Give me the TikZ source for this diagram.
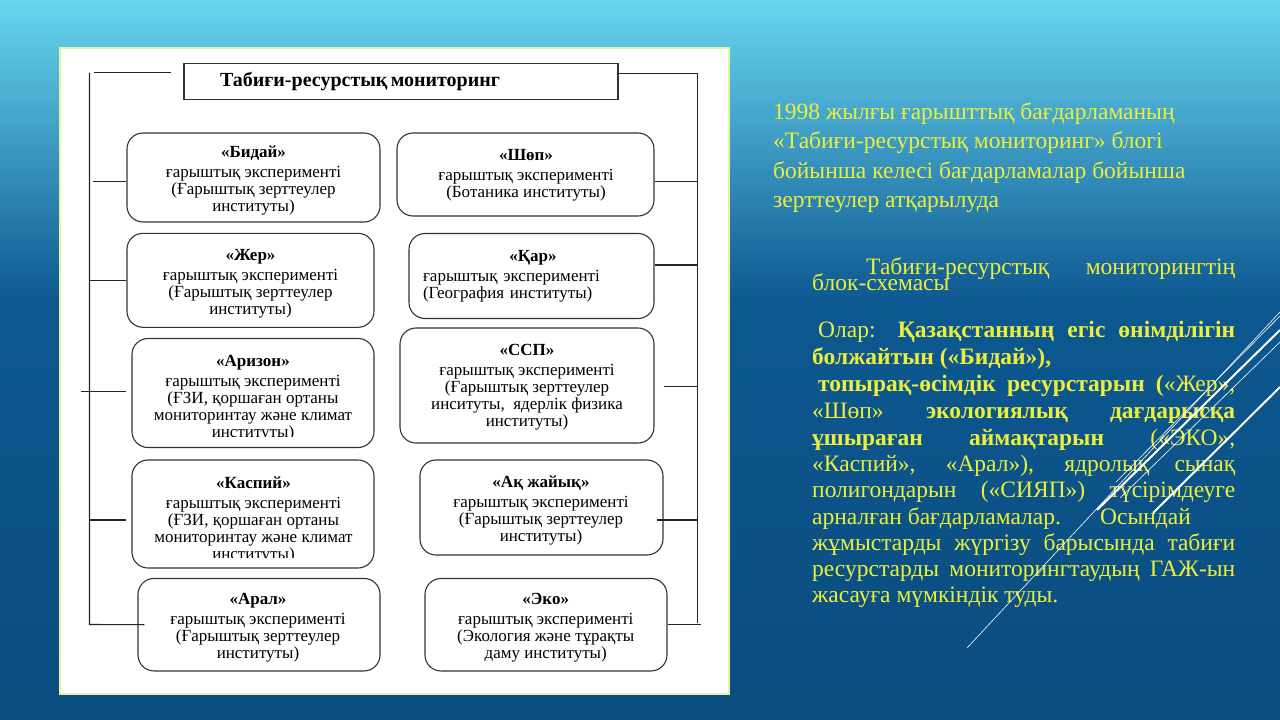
\documentclass[tikz,border=0pt]{standalone}
\usepackage{fontspec}
\setmainfont{Liberation Serif}
\usetikzlibrary{positioning, calc}
\definecolor{slidetop}{RGB}{104,214,240}
\definecolor{slidemid}{RGB}{34,128,186}
\definecolor{slidedark}{RGB}{13,88,145}
\definecolor{slidebottom}{RGB}{10,76,126}
\definecolor{panelrim}{RGB}{228,244,160}
\definecolor{noteyellow}{RGB}{236,240,60}
\newcommand{\boxfont}{\fontsize{17pt}{17pt}\selectfont}
\newcommand{\notefont}{\fontsize{23.5pt}{26pt}\selectfont}

\begin{document}
\begin{tikzpicture}[x=1pt, y=-1pt,
    expbox/.style={draw=black!80, line width=1.1pt, fill=white, rounded corners=16pt, inner sep=0},
    exptext/.style={align=center, font=\boxfont, inner sep=0},
    titlebox/.style={draw=black!80, line width=1.1pt, fill=white, inner sep=0, minimum width=434pt, minimum height=36.5pt, text width=434pt, align=left},
    link/.style={draw=black!85, line width=1.1pt},
    note/.style={text=noteyellow, inner sep=0, anchor=base west, font=\notefont}]
    \useasboundingbox (0,0) rectangle (1280,720);

    % Slide background
    \shade[top color=slidetop, middle color=slidemid, bottom color=slidedark] (0,0) rectangle (1280,300);
    \shade[top color=slidedark, bottom color=slidebottom] (0,300) rectangle (1280,720);

    % White panel
    \draw[fill=white, draw=panelrim, line width=2pt] (60,48) rectangle (729,694);

    % Title
    \node[titlebox] (title) at (401,81.5) {\hspace*{36pt}\fontsize{20pt}{22pt}\selectfont\textbf{Табиғи-ресурстық мониторинг}};

    % Experiment boxes
    \node[expbox, minimum width=253pt, minimum height=89pt] (bidai) at (253.5,177.5) {};
    \node[expbox, minimum width=257pt, minimum height=83pt] (shop) at (525.5,174.5) {};
    \node[expbox, minimum width=247pt, minimum height=94pt] (zher) at (250.5,280.3) {};
    \node[expbox, minimum width=245pt, minimum height=85pt] (qar) at (531.5,276) {};
    \node[expbox, minimum width=242pt, minimum height=109pt] (arizon) at (253,393) {};
    \node[expbox, minimum width=254pt, minimum height=115pt] (ssp) at (527,385.5) {};
    \node[expbox, minimum width=242pt, minimum height=108pt] (kaspiy) at (253,514) {};
    \node[expbox, minimum width=243pt, minimum height=95pt] (aqzh) at (541.5,507.5) {};
    \node[expbox, minimum width=242pt, minimum height=92.5pt] (aral) at (259,624.7) {};
    \node[expbox, minimum width=242pt, minimum height=92.5pt] (eko) at (546,624.7) {};

    % Box texts
    \node[exptext] (bidaiT) at (253.5,180) {\textbf{«Бидай»}\\[3pt] ғарыштық эксперименті\\ (Ғарыштық зерттеулер\\ институты)};
    \node[exptext] (shopT) at (526,175) {\textbf{«Шөп»}\\[3pt] ғарыштық эксперименті\\ (Ботаника институты)};
    \node[exptext] (zherT) at (250.5,283.5) {\textbf{«Жер»}\\[3pt] ғарыштық эксперименті\\ (Ғарыштық зерттеулер\\ институты)};
    \node[exptext, text width=220pt, align=left] (qarT) at (533,276) {\makebox[220pt]{\textbf{«Қар»}}\\[3pt] ғарыштық эксперименті\\ (География институты)};
    \begin{scope}
        \clip (133,340) rectangle (373,436);
        \node[exptext] (arizonT) at (253,398) {\textbf{«Аризон»}\\[3pt] ғарыштық эксперименті\\ (ҒЗИ, қоршаған ортаны\\ мониторинтау және климат\\ институты)};
    \end{scope}
    \node[exptext] (sspT) at (527,387) {\textbf{«ССП»}\\[3pt] ғарыштық эксперименті\\ (Ғарыштық зерттеулер\\ инситуты,\ \ ядерлік физика\\ институты)};
    \begin{scope}
        \clip (133,461) rectangle (373,557);
        \node[exptext] (kaspiyT) at (253.5,519.5) {\textbf{«Каспий»}\\[3pt] ғарыштық эксперименті\\ (ҒЗИ, қоршаған ортаны\\ мониторинтау және климат\\ институты)};
    \end{scope}
    \node[exptext] (aqzhT) at (541,510) {\textbf{«Ақ жайық»}\\[3pt] ғарыштық эксперименті\\ (Ғарыштық зерттеулер\\ институты)};
    \node[exptext] (aralT) at (258,628) {\textbf{«Арал»}\\[3pt] ғарыштық эксперименті\\ (Ғарыштық зерттеулер\\ институты)};
    \node[exptext] (ekoT) at (545.7,628) {\textbf{«Эко»}\\[3pt] ғарыштық эксперименті\\ (Экология және тұрақты\\ даму институты)};

    % Left bus
    \coordinate (lbusT) at (89.5,72.5);
    \coordinate (lbusB) at (89.5,624.5);
    \coordinate (lstubW) at (94,72.5);
    \coordinate (lstubE) at (171,72.5);
    \draw[link] (lstubW) -- (lstubE);
    \draw[link] (lbusT) -- (lbusB) -- ([xshift=7pt]aral.west);
    \draw[link] ([yshift=-4pt]bidai.west) -- ++(-33,0);
    \draw[link] (zher.west) -- ++(-37.5,0);
    \draw[link] ([xshift=-5pt,yshift=1.5pt]arizon.west) -- ++(-45.5,0);
    \draw[link] ([xshift=-5pt,yshift=-6pt]kaspiy.west) -- ++(-37.5,0);

    % Right bus
    \coordinate (rbusT) at (697.5,73.5);
    \coordinate (rbusB) at (697.5,623);
    \draw[link] ([yshift=8pt]title.east) -- (rbusT) -- (rbusB);
    \draw[link] ([yshift=-7pt]shop.east) -- ++(43.5,0);
    \draw[link] ([yshift=11pt]qar.east) -- ++(43.5,0);
    \draw[link] ([xshift=9pt,yshift=-1pt]ssp.east) -- ++(34.7,0);
    \draw[link] ([xshift=-7pt,yshift=-12.5pt]aqzh.east) -- ++(41.5,0);
    \draw[link] (eko.east) -- ++(33,0);

    % Intro text
    \foreach \i/\y/\t in {1/119/{1998 жылғы ғарышттық бағдарламаның},
                          2/148.5/{«Табиғи-ресурстық мониторинг» блогі},
                          3/178/{бойынша келесі бағдарламалар бойынша},
                          4/207.5/{зерттеулер атқарылуда}} {
        \node[note] (intro\i) at (773,\y) {\t};
    }

    % Description text
    \node[note] (desc1) at (866,274) {\makebox[369pt][s]{Табиғи-ресурстық мониторингтің}};
    \node[note] (desc2) at (812,290) {блок-схемасы};
    \node[note] (desc3) at (812,337) {\makebox[423pt][s]{\hspace*{6pt}Олар: \textbf{Қазақстанның егіс өнімділігін}}};
    \node[note] (desc4) at (812,364) {\textbf{болжайтын («Бидай»),}};
    \node[note] (desc5) at (812,391) {\makebox[423pt][s]{\hspace*{6pt}\textbf{топырақ-өсімдік ресурстарын (}«Жер»,}};
    \node[note] (desc6) at (812,418) {\makebox[423pt][s]{«Шөп» \textbf{экологиялық} \textbf{дағдарысқа}}};
    \node[note] (desc7) at (812,445) {\makebox[423pt][s]{\textbf{ұшыраған} \textbf{аймақтарын} («ЭКО»,}};
    \node[note] (desc8) at (812,471) {\makebox[423pt][s]{«Каспий», «Арал»), ядролық сынақ}};
    \node[note] (desc9) at (812,497.5) {\makebox[423pt][s]{полигондарын («СИЯП») түсірімдеуге}};
    \node[note] (desc10) at (812,524) {\makebox[288pt][l]{арналған бағдарламалар.}Осындай};
    \node[note] (desc11) at (812,550) {\makebox[423pt][s]{жұмыстарды жүргізу барысында табиғи}};
    \node[note] (desc12) at (812,576) {\makebox[423pt][s]{ресурстарды мониторингтаудың ГАЖ-ын}};
    \node[note] (desc13) at (812,602) {жасауға мүмкіндік туды.};

    % Decorative strokes
    \draw[white, line width=0.6pt] (967,648) -- (1280,312);
    \draw[white, line width=0.6pt] (1116,482) -- (1280,316);
    \draw[white, line width=2pt] (1097,510) -- (1280,330);
    \draw[white, line width=0.6pt] (1120,498) -- (1280,342);
    \draw[white, line width=2pt] (1153,513) -- (1280,387);
\end{tikzpicture}
\end{document}
